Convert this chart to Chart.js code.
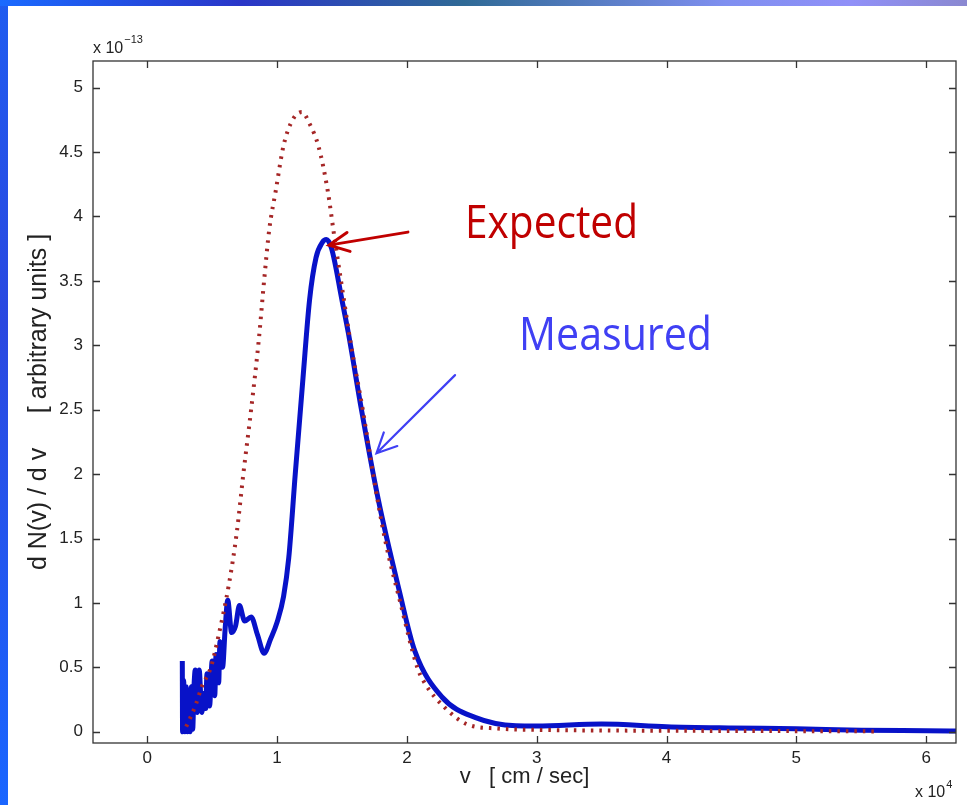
<!DOCTYPE html>
<html>
<head>
<meta charset="utf-8">
<script src="https://cdn.jsdelivr.net/npm/chart.js@4/dist/chart.umd.min.js"></script>
<style>
  html, body { margin: 0; padding: 0; background: #fff; }
  #wrap { position: relative; width: 967px; height: 805px; overflow: hidden; }
  #leftBar { position: absolute; left: 0; top: 0; width: 8px; height: 805px; z-index: 2;
    background: linear-gradient(to bottom, #1f5cf0, #2a48e0 40%, #1a66ff); }
  #topBar { position: absolute; left: 0; top: 0; width: 967px; height: 6px; z-index: 2;
    background: linear-gradient(to right, #1a6aff, #2a36c8 25%, #2f6a96 48%, #7f8ff0 75%, #9090f8 88%, #8a88d0); }
</style>
</head>
<body>
<div id="wrap">
  <div id="leftBar"></div>
  <div id="topBar"></div>
  <canvas id="chart" width="967" height="805"></canvas>
</div>
<script>
// velocity in units of 1e4 cm/sec, dN/dv in units of 1e-13
const measuredV = [0.27,0.272,0.28,0.29,0.30,0.31,0.32,0.33,0.34,0.35,0.36,0.37,0.385,0.40,0.42,0.44,0.45,0.46,0.48,0.50,0.52,0.53,0.55,0.56,0.58,0.60,0.62,0.65,0.68,0.71,0.75,0.80,0.85,0.90,0.95,1.00,1.05,1.09,1.14,1.20,1.25,1.30,1.35,1.38,1.42,1.50,1.55,1.65,1.78,1.94,2.06,2.27,2.53,2.84,3.0,3.5,4.0,4.5,5.0,5.5,6.0,6.3];
const measured = [0.55,0.0,0.4,0.0,0.35,0.0,0.3,0.0,0.35,0.02,0.35,0.48,0.15,0.48,0.15,0.3,0.18,0.45,0.2,0.55,0.28,0.6,0.38,0.7,0.5,0.8,1.02,0.77,0.82,0.98,0.86,0.89,0.75,0.61,0.72,0.85,1.05,1.35,2.0,2.75,3.35,3.68,3.8,3.82,3.75,3.35,3.09,2.5,1.8,1.1,0.63,0.27,0.11,0.047,0.045,0.06,0.04,0.03,0.023,0.012,0.008,0.005];

const expectedV = [0.30,0.37,0.42,0.49,0.55,0.63,0.69,0.74,0.80,0.86,0.90,0.94,0.99,1.05,1.12,1.19,1.25,1.32,1.39,1.44,1.50,1.57,1.66,1.74,1.83,1.95,2.08,2.13,2.30,2.46,2.70,2.99,3.5,4.0,5.0,5.63];
const expected = [0.04,0.2,0.35,0.5,0.75,1.15,1.55,2.0,2.5,3.05,3.5,3.9,4.2,4.55,4.75,4.81,4.72,4.54,4.2,3.85,3.45,3.0,2.5,2.0,1.5,1.0,0.5,0.39,0.18,0.06,0.025,0.015,0.01,0.008,0.005,0.003];

const xTicks = [0,1,2,3,4,5,6];
const yTicks = [0,0.5,1,1.5,2,2.5,3,3.5,4,4.5,5];

// annotation positions (data units)
const labelExpected = { text: "Expected", x: 2.448, y: 3.83, x2: 3.78 };
const labelMeasured = { text: "Measured", x: 2.864, y: 2.96, x2: 4.35 };
const arrowExpected = { from: [2.008, 3.878], to: [1.40, 3.777] };
const arrowMeasured = { from: [2.371, 2.768], to: [1.766, 2.162] };

const toPoints = (xs, ys) => xs.map((x, i) => ({ x: x, y: ys[i] }));

const tickFont = { family: "Liberation Sans", size: 17 };

// white background + box with inner ticks (matlab style)
const frame = {
  id: "frame",
  beforeDraw(chart) {
    const ctx = chart.ctx;
    ctx.save();
    ctx.fillStyle = "#fff";
    ctx.fillRect(0, 0, chart.width, chart.height);
    ctx.restore();
  },
  afterDraw(chart) {
    const ctx = chart.ctx;
    const a = chart.chartArea;
    const xs = chart.scales.x, ys = chart.scales.y;
    ctx.save();
    ctx.strokeStyle = "#333";
    ctx.lineWidth = 1.3;
    ctx.strokeRect(a.left, a.top, a.right - a.left, a.bottom - a.top);
    ctx.beginPath();
    xTicks.forEach(v => {
      const px = Math.round(xs.getPixelForValue(v)) + 0.5;
      ctx.moveTo(px, a.bottom); ctx.lineTo(px, a.bottom - 7);
      ctx.moveTo(px, a.top); ctx.lineTo(px, a.top + 7);
    });
    yTicks.forEach(v => {
      const py = Math.round(ys.getPixelForValue(v)) + 0.5;
      ctx.moveTo(a.left, py); ctx.lineTo(a.left + 7, py);
      ctx.moveTo(a.right, py); ctx.lineTo(a.right - 7, py);
    });
    ctx.stroke();

    // exponent labels
    ctx.fillStyle = "#222";
    ctx.textBaseline = "alphabetic";
    ctx.font = "16px 'Liberation Sans'";
    ctx.fillText("x 10", a.left, a.top - 8);
    let w = ctx.measureText("x 10").width;
    ctx.font = "11px 'Liberation Sans'";
    ctx.fillText("\u221213", a.left + w + 1, a.top - 18);

    ctx.font = "16px 'Liberation Sans'";
    ctx.fillText("x 10", a.right - 41, chart.height - 8);
    w = ctx.measureText("x 10").width;
    ctx.font = "11px 'Liberation Sans'";
    ctx.fillText("4", a.right - 41 + w + 1, chart.height - 17);

    // annotations
    const text = (lab, color) => {
      const x1 = xs.getPixelForValue(lab.x), x2 = xs.getPixelForValue(lab.x2);
      const y = ys.getPixelForValue(lab.y);
      ctx.font = "46px 'Open Sans'";
      const tw = ctx.measureText(lab.text).width;
      ctx.save();
      ctx.translate(x1, y);
      ctx.scale((x2 - x1) / tw, 1);
      ctx.fillStyle = color;
      ctx.fillText(lab.text, 0, 0);
      ctx.restore();
    };
    text(labelExpected, "#c00000");
    text(labelMeasured, "#4040f4");

    const arrow = (ar, color, lw) => {
      const fx = xs.getPixelForValue(ar.from[0]), fy = ys.getPixelForValue(ar.from[1]);
      const tx = xs.getPixelForValue(ar.to[0]), ty = ys.getPixelForValue(ar.to[1]);
      const ang = Math.atan2(ty - fy, tx - fx);
      const head = 22, spread = 0.45;
      ctx.strokeStyle = color;
      ctx.lineWidth = lw;
      ctx.lineCap = "round";
      ctx.beginPath();
      ctx.moveTo(fx, fy); ctx.lineTo(tx, ty);
      ctx.moveTo(tx - head * Math.cos(ang - spread), ty - head * Math.sin(ang - spread));
      ctx.lineTo(tx, ty);
      ctx.lineTo(tx - head * Math.cos(ang + spread), ty - head * Math.sin(ang + spread));
      ctx.stroke();
    };
    arrow(arrowExpected, "#c00000", 3);
    arrow(arrowMeasured, "#4040f4", 2.2);
    ctx.restore();
  }
};

new Chart(document.getElementById("chart").getContext("2d"), {
  type: "scatter",
  data: {
    datasets: [
      {
        label: "Expected",
        data: toPoints(expectedV, expected),
        showLine: true,
        borderColor: "rgb(165,38,38)",
        borderWidth: 4,
        borderDash: [2.5, 6],
        pointRadius: 0,
        cubicInterpolationMode: "monotone",
        order: 0
      },
      {
        label: "Measured",
        data: toPoints(measuredV, measured),
        showLine: true,
        borderColor: "#0812c8",
        borderWidth: 5,
        pointRadius: 0,
        cubicInterpolationMode: "monotone",
        borderJoinStyle: "round",
        order: 1
      }
    ]
  },
  options: {
    responsive: false,
    animation: false,
    layout: { padding: { left: 0, right: 11, top: 61, bottom: 0 } },
    plugins: {
      legend: { display: false },
      tooltip: { enabled: false }
    },
    scales: {
      x: {
        type: "linear",
        min: -0.418,
        max: 6.23,
        afterBuildTicks: s => { s.ticks = xTicks.map(v => ({ value: v })); },
        afterFit: s => { s.height = 62; },
        grid: { display: false, drawTicks: false },
        border: { display: false },
        ticks: { font: tickFont, color: "#222", padding: 5, callback: v => String(v) },
        title: {
          display: true,
          text: "v   [ cm / sec]",
          font: { family: "Liberation Sans", size: 22 },
          color: "#222",
          padding: { top: 0, bottom: 15 }
        }
      },
      y: {
        type: "linear",
        min: -0.087,
        max: 5.206,
        afterBuildTicks: s => { s.ticks = yTicks.map(v => ({ value: v })); },
        afterFit: s => { s.width = 93; },
        grid: { display: false, drawTicks: false },
        border: { display: false },
        ticks: { font: tickFont, color: "#222", padding: 10, callback: v => String(v) },
        title: {
          display: true,
          text: "d N(v) / d v     [ arbitrary units ]",
          font: { family: "Liberation Sans", size: 25 },
          color: "#222",
          padding: { top: 24, bottom: 0 }
        }
      }
    }
  },
  plugins: [frame]
});
</script>
</body>
</html>
